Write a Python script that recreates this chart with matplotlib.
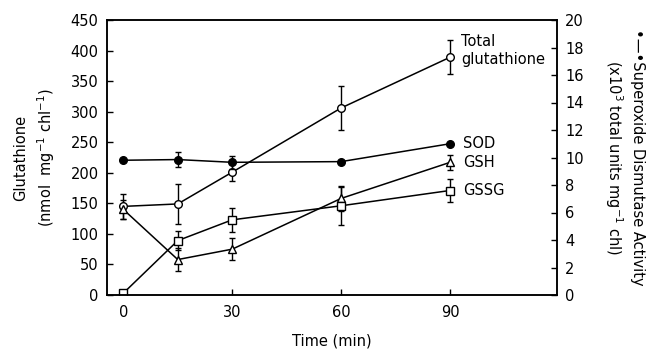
import matplotlib
matplotlib.use("Agg")
import matplotlib.pyplot as plt
import numpy as np

plt.rcParams['font.family'] = ['DejaVu Sans']
plt.rcParams['mathtext.fontset'] = 'dejavusans'

# time points (min)
time = [0, 15, 30, 60, 90]

# glutathione, nmol mg-1 chl-1
total = [145, 149, 201, 306, 389]
total_err = [20, 32, 15, 36, 28]
gsh = [140, 58, 75, 158, 217]
gsh_err = [15, 19, 18, 20, 12]
gssg = [3, 89, 123, 146, 171]
gssg_err = [0, 15, 20, 31, 19]

# superoxide dismutase, x10^3 total units mg-1 chl
sod = [9.8, 9.85, 9.65, 9.7, 11.0]
sod_err = [0, 0.55, 0.45, 0, 0]

fig = plt.figure(figsize=(6.53, 3.62), dpi=100)
ax = fig.add_axes([107/653, 1-295/362, (557-107)/653, (295-20)/362])
ax2 = ax.twinx()

kw = dict(color='black', lw=1.1, capsize=2.5, elinewidth=1.0, capthick=1.0,
          ms=5.5, mfc='white', mec='black', mew=1.0)
ax.errorbar(time, total, yerr=total_err, marker='o', **kw)
ax.errorbar(time, gsh, yerr=gsh_err, marker='^', **kw)
ax.errorbar(time, gssg, yerr=gssg_err, marker='s', **kw)
kw2 = dict(kw)
kw2['mfc'] = 'black'
ax2.errorbar(time, sod, yerr=sod_err, marker='o', **kw2)

ax.set_xlim(-4.5, 119.5)
ax.set_ylim(0, 450)
ax2.set_ylim(0, 20)
ax.set_xticks([0, 30, 60, 90])
ax.set_yticks(np.arange(0, 451, 50))
ax2.set_yticks(np.arange(0, 21, 2))

for a in (ax, ax2):
    a.tick_params(direction='in', length=4, width=1, labelsize=10.5, pad=6)
    for s in a.spines.values():
        s.set_linewidth(1.1)
ax.tick_params(axis='x', pad=7)

ax.text(93, 400, 'Total\nglutathione', fontsize=10.5, va='center', ha='left',
        linespacing=1.25)
ax2.text(93.5, sod[-1], 'SOD', fontsize=10.5, va='center', ha='left')
ax.text(93.5, gsh[-1], 'GSH', fontsize=10.5, va='center', ha='left')
ax.text(93.5, gssg[-1], 'GSSG', fontsize=10.5, va='center', ha='left')

ax.set_xlabel('Time (min)', fontsize=10.5, labelpad=10)
ax.set_ylabel('Glutathione\n(nmol  mg$^{-1}$ chl$^{-1}$)', fontsize=10.5,
              labelpad=10, linespacing=1.4)
ax2.set_ylabel('\u2022\u2014\u2022Superoxide Dismutase Activity\n'
               '(x10$^{3}$ total units mg$^{-1}$ chl)', fontsize=10.5,
               rotation=270, labelpad=44, linespacing=1.3)

fig.savefig('out.png', dpi=100)
